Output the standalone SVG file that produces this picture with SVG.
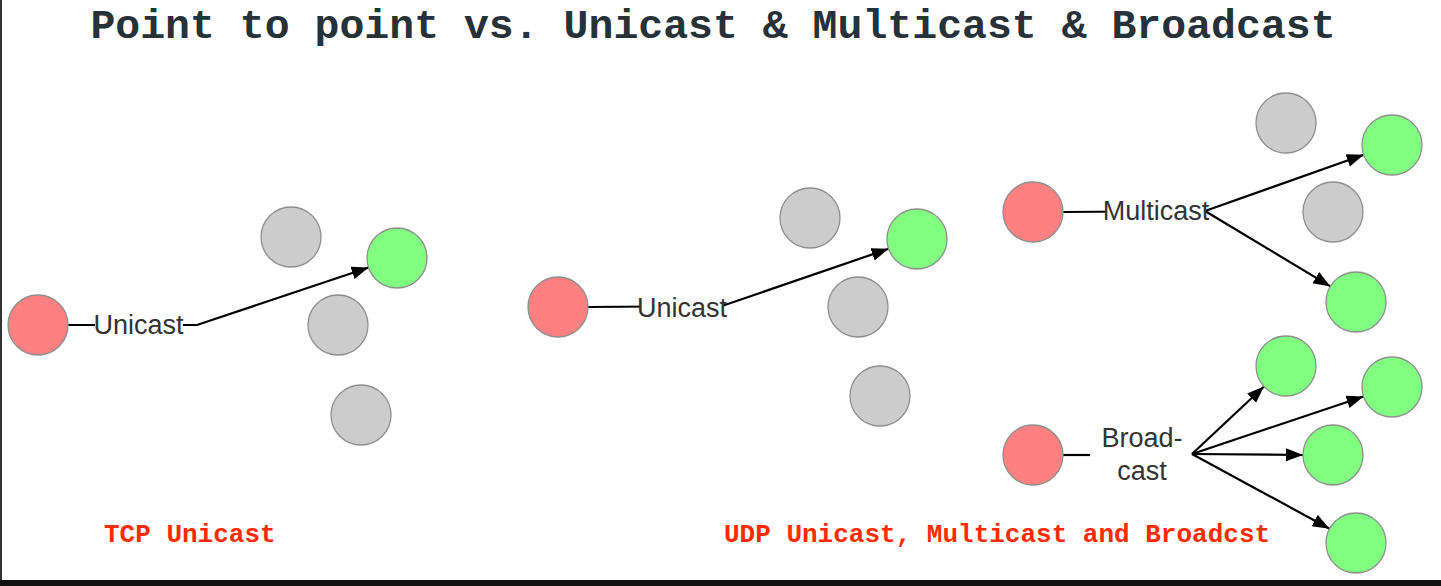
<svg xmlns="http://www.w3.org/2000/svg" width="1441" height="586" viewBox="0 0 1441 586">
<style>
.red{fill:#ff8080;stroke:#8f8f8f;stroke-width:1.3}
.green{fill:#80ff80;stroke:#8f8f8f;stroke-width:1.3}
.gray{fill:#cccccc;stroke:#8f8f8f;stroke-width:1.3}
.edge{fill:none;stroke:#000;stroke-width:2.2}
.arrow{fill:none;stroke:#000;stroke-width:2.2;marker-end:url(#ah)}
.lbl{font-family:"Liberation Sans",Arial,sans-serif;font-size:27px;fill:#333;text-anchor:middle}
.title{font-family:"Liberation Mono","Courier New",monospace;font-weight:bold;font-size:41.5px;fill:#263238;text-anchor:middle}
.cap{font-family:"Liberation Mono","Courier New",monospace;font-weight:bold;font-size:26px;fill:#ff2a00}
</style>
<defs>
<marker id="ah" markerUnits="userSpaceOnUse" markerWidth="18" markerHeight="14" refX="17" refY="6.5" orient="auto">
<path d="M0,0 L17,6.5 L0,13 Z" fill="#000"/>
</marker>
</defs>
<rect width="1441" height="586" fill="#fff"/>
<rect x="0" y="0" width="2" height="586" fill="#333"/>
<rect x="0" y="580" width="1441" height="6" fill="#111"/>
<text class="title" x="713" y="38">Point to point vs. Unicast &amp; Multicast &amp; Broadcast</text>

<g id="connectors">
<polyline class="arrow" points="68,325 197,325 368.6,267.5"/>
<polyline class="arrow" points="588,307 722,306 888.6,248.8"/>
<polyline class="edge" points="1063,212 1205,211"/>
<polyline class="arrow" points="1205,211 1363.7,154.8"/>
<polyline class="arrow" points="1205,211 1330.4,286.4"/>
<line class="edge" x1="1063" y1="455" x2="1090" y2="455"/>
<polyline class="arrow" points="1192,454 1264,386.5"/>
<polyline class="arrow" points="1192,454 1363.6,396.5"/>
<polyline class="arrow" points="1192,454 1303,455"/>
<polyline class="arrow" points="1192,454 1329.6,528.7"/>
</g>

<g id="label-tcp-unicast"><rect x="95" y="312" width="88" height="26" fill="#fff"/><text class="lbl" x="138.5" y="334">Unicast</text></g>
<g id="label-udp-unicast"><rect x="641" y="295" width="82" height="26" fill="#fff"/><text class="lbl" x="682" y="317">Unicast</text></g>
<g id="label-multicast"><rect x="1106" y="198" width="98" height="26" fill="#fff"/><text class="lbl" x="1156" y="220">Multicast</text></g>
<g id="label-broadcast"><text class="lbl" x="1142" y="447">Broad-</text><text class="lbl" x="1142" y="480">cast</text></g>

<g id="tcp-sender"><circle class="red" cx="38" cy="325" r="30"/></g>
<g id="tcp-gray1"><circle class="gray" cx="291" cy="237" r="30"/></g>
<g id="tcp-receiver"><circle class="green" cx="397" cy="258" r="30"/></g>
<g id="tcp-gray2"><circle class="gray" cx="338" cy="325" r="30"/></g>
<g id="tcp-gray3"><circle class="gray" cx="361" cy="415" r="30"/></g>

<g id="udp-sender"><circle class="red" cx="558" cy="307" r="30"/></g>
<g id="udp-gray1"><circle class="gray" cx="810" cy="218" r="30"/></g>
<g id="udp-receiver"><circle class="green" cx="917" cy="239" r="30"/></g>
<g id="udp-gray2"><circle class="gray" cx="858" cy="307" r="30"/></g>
<g id="udp-gray3"><circle class="gray" cx="880" cy="396" r="30"/></g>

<g id="mc-sender"><circle class="red" cx="1033" cy="212" r="30"/></g>
<g id="mc-gray1"><circle class="gray" cx="1286" cy="123" r="30"/></g>
<g id="mc-receiver1"><circle class="green" cx="1392" cy="145" r="30"/></g>
<g id="mc-gray2"><circle class="gray" cx="1333" cy="212" r="30"/></g>
<g id="mc-receiver2"><circle class="green" cx="1356" cy="302" r="30"/></g>

<g id="bc-sender"><circle class="red" cx="1033" cy="455" r="30"/></g>
<g id="bc-receiver1"><circle class="green" cx="1286" cy="366" r="30"/></g>
<g id="bc-receiver2"><circle class="green" cx="1392" cy="387" r="30"/></g>
<g id="bc-receiver3"><circle class="green" cx="1333" cy="455" r="30"/></g>
<g id="bc-receiver4"><circle class="green" cx="1356" cy="543" r="30"/></g>

<text class="cap" x="104" y="542">TCP Unicast</text>
<text class="cap" x="724" y="542">UDP Unicast, Multicast and Broadcst</text>
</svg>
